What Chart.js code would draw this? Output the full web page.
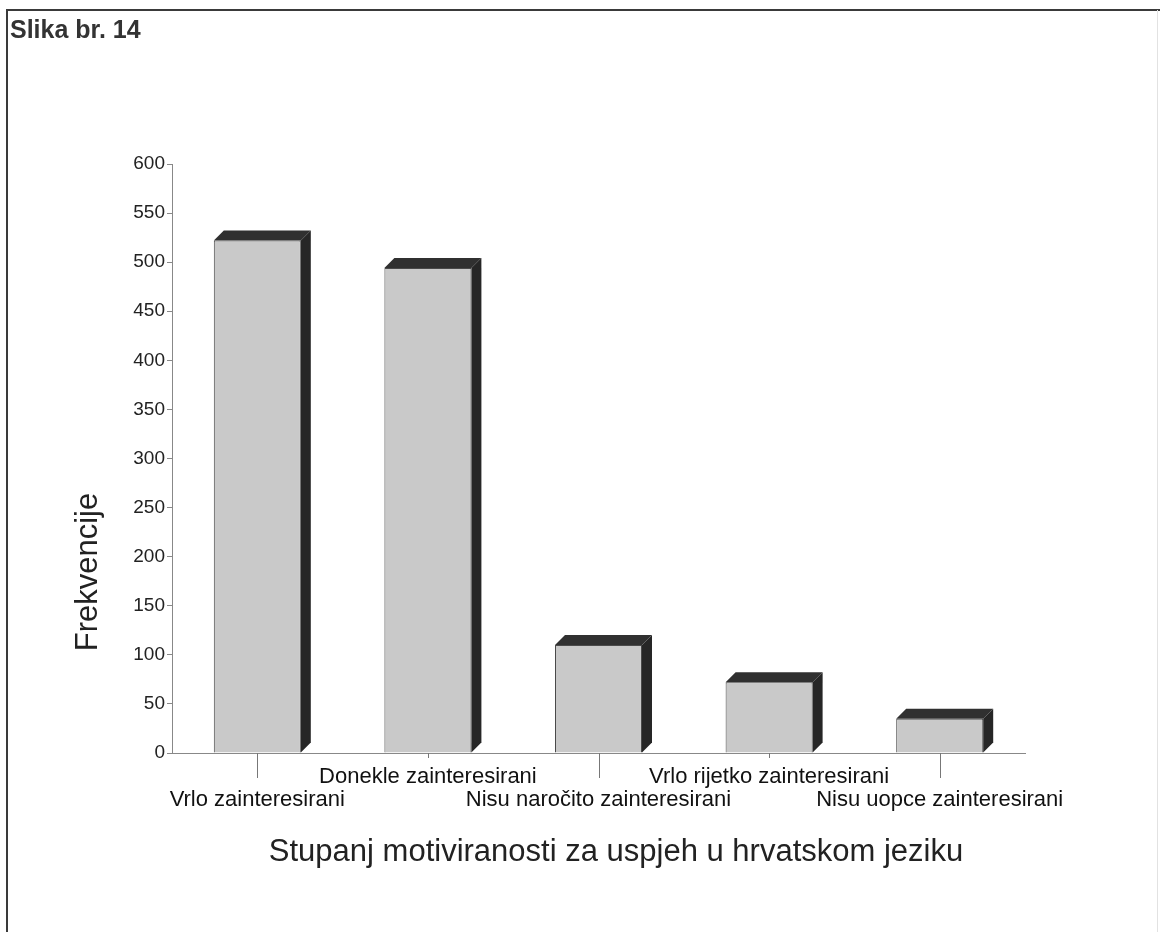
<!DOCTYPE html>
<html>
<head>
<meta charset="utf-8">
<script src="https://cdn.jsdelivr.net/npm/chart.js@4.4.1/dist/chart.umd.min.js"></script>
<style>
  html, body { margin: 0; padding: 0; background: #fff; }
</style>
</head>
<body>
<canvas id="motivChart" width="1160" height="932"></canvas>
<script>
// Data
const categories = [
    'Vrlo zainteresirani',
    'Donekle zainteresirani',
    'Nisu naročito zainteresirani',
    'Vrlo rijetko zainteresirani',
    'Nisu uopce zainteresirani'
];
const frequencies = [522, 494, 110, 72, 35];
const yTickValues = [0, 50, 100, 150, 200, 250, 300, 350, 400, 450, 500, 550, 600];

const captionText = 'Slika br. 14';
const yTitleText = 'Frekvencije';
const xTitleText = 'Stupanj motiviranosti za uspjeh u hrvatskom jeziku';

const FONT = '"Liberation Sans", Arial, Helvetica, sans-serif';

// frame, caption and axis titles
const decorPlugin = {
    id: 'decor',
    beforeDraw(chart) {
        const ctx = chart.ctx;
        ctx.save();
        ctx.fillStyle = '#fff';
        ctx.fillRect(0, 0, chart.width, chart.height);

        ctx.strokeStyle = '#3a3a3a';
        ctx.lineWidth = 2;
        ctx.beginPath();
        ctx.moveTo(7, chart.height);
        ctx.lineTo(7, 10);
        ctx.lineTo(chart.width, 10);
        ctx.stroke();

        ctx.strokeStyle = '#e2e2e2';
        ctx.lineWidth = 1;
        ctx.beginPath();
        ctx.moveTo(1157.5, 10);
        ctx.lineTo(1157.5, chart.height);
        ctx.stroke();

        ctx.fillStyle = '#333';
        ctx.font = 'bold 25px ' + FONT;
        ctx.textAlign = 'left';
        ctx.textBaseline = 'alphabetic';
        ctx.fillText(captionText, 10, 38);
        ctx.restore();
    },
    afterDraw(chart) {
        const ctx = chart.ctx;
        const area = chart.chartArea;
        ctx.save();
        ctx.fillStyle = '#222';
        ctx.font = '31px ' + FONT;
        ctx.textAlign = 'center';
        ctx.textBaseline = 'middle';
        ctx.fillText(xTitleText, 616, 852);

        ctx.translate(88, 572);
        ctx.rotate(-Math.PI / 2);
        ctx.fillText(yTitleText, 0, 0);
        ctx.restore();

        // category tick marks, long ones under the lower label row
        const xs = chart.scales.x;
        ctx.save();
        ctx.strokeStyle = '#777';
        ctx.lineWidth = 1;
        categories.forEach((c, i) => {
            const px = Math.round(xs.getPixelForTick(i)) + 0.5;
            ctx.beginPath();
            ctx.moveTo(px, area.bottom);
            ctx.lineTo(px, area.bottom + (i % 2 === 0 ? 25 : 5));
            ctx.stroke();
        });
        ctx.restore();
    }
};

// dark top and side faces for the 3D look
const bar3dPlugin = {
    id: 'bar3d',
    afterDatasetsDraw(chart) {
        const ctx = chart.ctx;
        const d = 10;
        chart.getDatasetMeta(0).data.forEach(bar => {
            const p = bar.getProps(['x', 'y', 'base', 'width'], true);
            const l = p.x - p.width / 2;
            const r = p.x + p.width / 2;
            ctx.save();
            ctx.fillStyle = '#262626';
            ctx.beginPath();
            ctx.moveTo(r, p.base);
            ctx.lineTo(r, p.y);
            ctx.lineTo(r + d, p.y - d);
            ctx.lineTo(r + d, p.base - d);
            ctx.closePath();
            ctx.fill();
            ctx.fillStyle = '#303030';
            ctx.beginPath();
            ctx.moveTo(l, p.y);
            ctx.lineTo(l + d, p.y - d);
            ctx.lineTo(r + d, p.y - d);
            ctx.lineTo(r, p.y);
            ctx.closePath();
            ctx.fill();
            ctx.restore();
        });
    }
};

const ctx = document.getElementById('motivChart').getContext('2d');
const motivChart = new Chart(ctx, {
    type: 'bar',
    data: {
        labels: categories,
        datasets: [{
            data: frequencies,
            backgroundColor: '#c9c9c9',
            borderColor: '#4a4a4a',
            borderWidth: 1,
            categoryPercentage: 1,
            barPercentage: 0.51
        }]
    },
    options: {
        responsive: false,
        animation: false,
        layout: {
            padding: { left: 0, right: 135, top: 164, bottom: 0 }
        },
        plugins: {
            legend: { display: false },
            tooltip: { enabled: false }
        },
        scales: {
            x: {
                afterFit(scale) { scale.height = 179; },
                grid: { drawOnChartArea: false, drawTicks: false },
                border: { color: '#888' },
                ticks: {
                    autoSkip: false,
                    maxRotation: 0,
                    padding: 12,
                    color: '#111',
                    font: { family: FONT, size: 22, lineHeight: 1.05 },
                    callback: function (value, i) {
                        var label = categories[i];
                        return i % 2 === 0 ? ['', label] : label;
                    }
                }
            },
            y: {
                min: 0,
                max: 600,
                afterFit(scale) { scale.width = 172; },
                afterBuildTicks(scale) {
                    scale.ticks = yTickValues.map(v => ({ value: v }));
                },
                grid: { drawOnChartArea: false, tickLength: 5, color: '#888' },
                border: { color: '#888' },
                ticks: {
                    padding: 2,
                    color: '#222',
                    font: { family: FONT, size: 19 }
                }
            }
        }
    },
    plugins: [decorPlugin, bar3dPlugin]
});
</script>
</body>
</html>
